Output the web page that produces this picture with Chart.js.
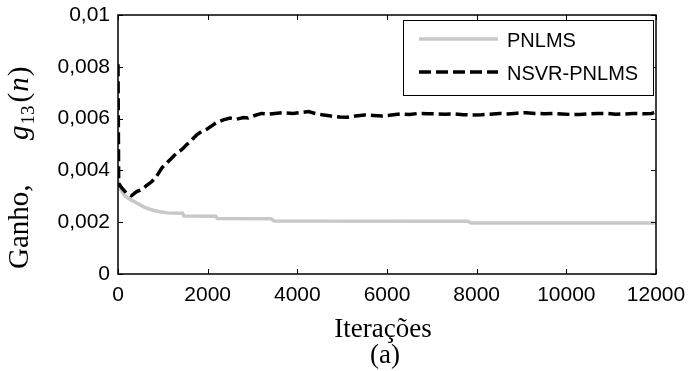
<!DOCTYPE html>
<html>
<head>
<meta charset="utf-8">
<title>Ganho g13(n)</title>
<script src="https://cdn.jsdelivr.net/npm/chart.js@4.4.1/dist/chart.umd.min.js"></script>
<style>
  body { margin: 0; background: #fff; }
  #wrap { width: 689px; height: 371px; }
</style>
</head>
<body>
<div id="wrap"><canvas id="gain-chart" width="689" height="371"></canvas></div>
<script>
const xTickValues = [0, 2000, 4000, 6000, 8000, 10000, 12000];
const xTickLabels = ["0", "2000", "4000", "6000", "8000", "10000", "12000"];
const yTickValues = [0, 0.002, 0.004, 0.006, 0.008, 0.01];
const yTickLabels = ["0", "0,002", "0,004", "0,006", "0,008", "0,01"];

const seriesNames = ["PNLMS", "NSVR-PNLMS"];

// PNLMS gain curve
const pnlmsIter = [0, 60, 150, 270, 400, 500, 600, 715, 830, 940, 1100, 1440, 1470, 2180, 2220, 3420, 3480, 7800, 7880, 12000];
const pnlmsGain = [0.0036, 0.00325, 0.00302, 0.00288, 0.00276, 0.00266, 0.00257, 0.0025, 0.00244, 0.0024, 0.00236, 0.00235, 0.00224, 0.00223, 0.00214, 0.00213, 0.00205, 0.00204, 0.00197, 0.00197];

// NSVR-PNLMS gain curve
const nsvrIter = [0, 15, 80, 190, 300, 415, 530, 640, 750, 860, 975, 1085, 1200, 1310, 1420, 1530, 1645, 1755, 1866, 1980,
  2090, 2200, 2350, 2500, 2650, 2800, 2900, 3050, 3200, 3350, 3500, 3700, 3900, 4100, 4250, 4400, 4550, 4750, 4950, 5100,
  5300, 5500, 5700, 5900, 6100, 6300, 6500, 6700, 6900, 7100, 7300, 7500, 7700, 7900, 8100, 8300, 8500, 8700, 8900, 9100,
  9300, 9500, 9700, 9900, 10100, 10300, 10500, 10700, 10900, 11100, 11300, 11500, 11700, 11900, 12000];
const nsvrGain = [0.0081, 0.0035, 0.00333, 0.00312, 0.00302, 0.00318, 0.00326, 0.00342, 0.00356, 0.00377, 0.00409, 0.00428, 0.00448, 0.00467, 0.0048, 0.00499, 0.00518, 0.00537, 0.0055, 0.00559,
  0.00572, 0.00585, 0.00595, 0.00602, 0.00598, 0.00604, 0.00602, 0.00612, 0.0062, 0.00617, 0.0062, 0.00623, 0.0062, 0.00624, 0.00627, 0.0062, 0.00615, 0.0061, 0.00606, 0.00605,
  0.0061, 0.00614, 0.00612, 0.0061, 0.00614, 0.00618, 0.00616, 0.0062, 0.00619, 0.00618, 0.00617, 0.00618, 0.00615, 0.00614, 0.00615, 0.00617, 0.0062, 0.00618, 0.00621, 0.00623,
  0.0062, 0.00619, 0.0062, 0.00618, 0.00616, 0.00616, 0.00618, 0.0062, 0.0062, 0.00617, 0.00618, 0.0062, 0.00619, 0.0062, 0.00625];

const toPoints = (xs, ys) => xs.map((x, i) => ({ x: x, y: ys[i] }));

const sansFont = "'Liberation Sans', Arial, sans-serif";
const serifFont = "'Liberation Serif', 'Times New Roman', serif";

// frame, inward tick marks, legend box and axis titles
const matlabLook = {
  id: "matlabLook",
  afterDraw(chart) {
    const ctx = chart.ctx;
    const area = chart.chartArea;
    const xs = chart.scales.x, ys = chart.scales.y;

    ctx.save();
    ctx.strokeStyle = "#000";
    ctx.lineWidth = 1.5;
    ctx.strokeRect(area.left, area.top, area.right - area.left, area.bottom - area.top);

    ctx.lineWidth = 1;
    ctx.beginPath();
    xTickValues.forEach(v => {
      const px = Math.round(xs.getPixelForValue(v)) + 0.5;
      ctx.moveTo(px, area.bottom); ctx.lineTo(px, area.bottom - 5);
      ctx.moveTo(px, area.top); ctx.lineTo(px, area.top + 5);
    });
    yTickValues.forEach(v => {
      const py = Math.round(ys.getPixelForValue(v)) + 0.5;
      ctx.moveTo(area.left, py); ctx.lineTo(area.left + 5, py);
      ctx.moveTo(area.right, py); ctx.lineTo(area.right - 5, py);
    });
    ctx.stroke();

    // legend
    ctx.fillStyle = "#fff";
    ctx.fillRect(403.5, 20.5, 250, 75);
    ctx.strokeRect(403.5, 20.5, 250, 75);
    ctx.font = "20px " + sansFont;
    ctx.textBaseline = "middle";
    ctx.textAlign = "left";
    const rows = [39, 72];
    chart.data.datasets.forEach((ds, i) => {
      ctx.beginPath();
      ctx.strokeStyle = ds.borderColor;
      ctx.lineWidth = ds.borderWidth;
      ctx.setLineDash(ds.borderDash || []);
      ctx.moveTo(419, rows[i]);
      ctx.lineTo(498, rows[i]);
      ctx.stroke();
      ctx.setLineDash([]);
      ctx.fillStyle = "#000";
      ctx.fillText(ds.label, 507, rows[i] + 2);
    });

    // x axis title and caption
    ctx.textAlign = "center";
    ctx.textBaseline = "alphabetic";
    ctx.font = "27px " + serifFont;
    ctx.fillText("Iterações", 383, 337);
    ctx.fillText("(a)", 385, 363);

    // y axis title: Ganho,  g13(n)
    ctx.translate(28, 0);
    ctx.rotate(-Math.PI / 2);
    ctx.textAlign = "left";
    ctx.font = "29px " + serifFont;
    ctx.fillText("Ganho,", -269, 0);
    let pos = -140;
    ctx.font = "italic 29px " + serifFont;
    ctx.fillText("g", pos, 0);
    pos += ctx.measureText("g").width + 1;
    ctx.font = "19px " + serifFont;
    ctx.fillText("13", pos, 6);
    pos += ctx.measureText("13").width + 3;
    ctx.font = "29px " + serifFont;
    ctx.fillText("(", pos, 0);
    pos += ctx.measureText("(").width + 1;
    ctx.font = "italic 29px " + serifFont;
    ctx.fillText("n", pos, 0);
    pos += ctx.measureText("n").width + 1;
    ctx.font = "29px " + serifFont;
    ctx.fillText(")", pos, 0);
    ctx.restore();
  }
};

const gainChart = new Chart(document.getElementById("gain-chart"), {
  type: "line",
  data: {
    datasets: [{
      label: seriesNames[0],
      data: toPoints(pnlmsIter, pnlmsGain),
      borderColor: "rgb(200,200,200)",
      borderWidth: 3.5,
      order: 2
    }, {
      label: seriesNames[1],
      data: toPoints(nsvrIter, nsvrGain),
      borderColor: "#000",
      borderWidth: 3.5,
      borderDash: [12, 5],
      order: 1
    }]
  },
  options: {
    responsive: false,
    devicePixelRatio: 1,
    animation: false,
    layout: { padding: { left: 0, top: 15, right: 33, bottom: 0 } },
    elements: { point: { radius: 0 }, line: { tension: 0 } },
    plugins: { legend: { display: false }, tooltip: { enabled: false } },
    scales: {
      x: {
        type: "linear",
        min: 0,
        max: 12000,
        afterBuildTicks: s => { s.ticks = xTickValues.map(v => ({ value: v })); },
        afterFit: s => { s.height = 97; s.paddingLeft = 0; s.paddingRight = 0; },
        grid: { display: false, drawTicks: false },
        border: { display: false },
        ticks: {
          padding: 9,
          color: "#000",
          maxRotation: 0,
          font: { family: sansFont, size: 21 },
          callback: (v, i) => xTickLabels[i]
        }
      },
      y: {
        type: "linear",
        min: 0,
        max: 0.01,
        afterBuildTicks: s => { s.ticks = yTickValues.map(v => ({ value: v })); },
        afterFit: s => { s.width = 118; s.paddingTop = 0; s.paddingBottom = 0; },
        grid: { display: false, drawTicks: false },
        border: { display: false },
        ticks: {
          padding: 8,
          color: "#000",
          font: { family: sansFont, size: 21 },
          callback: (v, i) => yTickLabels[i]
        }
      }
    }
  },
  plugins: [matlabLook]
});
</script>
</body>
</html>
